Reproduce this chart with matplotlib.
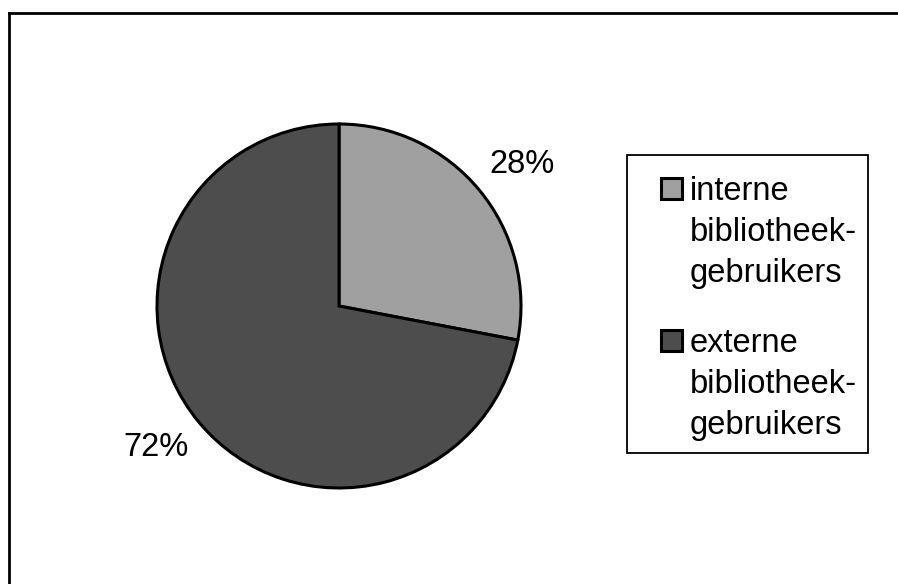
import numpy as np
import matplotlib
matplotlib.use('Agg')
import matplotlib.pyplot as plt
from matplotlib.lines import Line2D
from matplotlib.patches import Rectangle

labels = ['interne\nbibliotheek-\ngebruikers', 'externe\nbibliotheek-\ngebruikers']
shares = [28, 72]
colors = ['#a0a0a0', '#4d4d4d']

plt.rcParams['font.family'] = ['Liberation Sans', 'DejaVu Sans']

W, H = 898, 584
FS = 23.5
fig = plt.figure(figsize=(W / 100, H / 100), dpi=100)
fig.patch.set_facecolor('white')

def fx(px):
    return px / W

def fy(py):
    return 1 - py / H

# pie centred at (339, 306) px, radius 182 px
cx, cy, r = 339, 306, 182
ax = fig.add_axes([(cx - r) / W, (H - cy - r) / H, 2 * r / W, 2 * r / H])
wedges, texts, autotexts = ax.pie(
    shares, colors=colors, startangle=90, counterclock=False,
    autopct='%d%%', pctdistance=1.27,
    wedgeprops=dict(edgecolor='black', linewidth=2.2),
    textprops=dict(fontsize=FS, color='black'))
for w, t in zip(wedges, autotexts):
    w.set_clip_on(False)
    ang = np.deg2rad((w.theta1 + w.theta2) / 2 - 2)
    t.set_position((1.27 * np.cos(ang), 1.27 * np.sin(ang)))
ax.set_xlim(-1, 1)
ax.set_ylim(-1, 1)
ax.set_aspect('equal')
ax.axis('off')

# legend box, drawn by hand so the marker sits on the first line
fig.add_artist(Rectangle((fx(627), fy(453)), fx(868) - fx(627), fy(154.5) - fy(453),
                         transform=fig.transFigure, facecolor='white',
                         edgecolor='black', linewidth=1.3))
line_gap = 41
entry_gap = 152
for i, (lab, c) in enumerate(zip(labels, colors)):
    base = 200 + i * entry_gap
    fig.add_artist(Rectangle((fx(661), fy(base - 1)), fx(21), fy(0) - fy(21),
                             transform=fig.transFigure, facecolor=c,
                             edgecolor='black', linewidth=2.2))
    for j, part in enumerate(lab.split('\n')):
        fig.text(fx(690), fy(base + j * line_gap), part, fontsize=FS,
                 ha='left', va='baseline')

# outer border (only top and left edges are visible)
fig.add_artist(Line2D([fx(8.5), 1], [fy(12.5), fy(12.5)],
                      transform=fig.transFigure, color='black', linewidth=2))
fig.add_artist(Line2D([fx(8.5), fx(8.5)], [0, fy(12.5)],
                      transform=fig.transFigure, color='black', linewidth=2))

fig.savefig('out.png', dpi=100)
